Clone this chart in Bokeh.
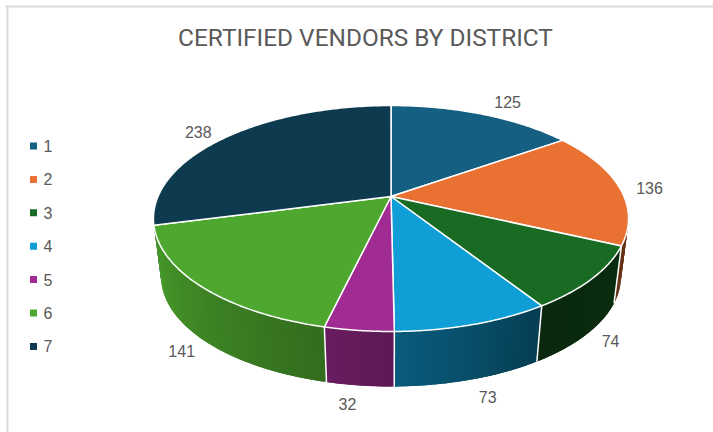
import numpy as np
from bokeh.embed import file_html
from bokeh.resources import INLINE
from bokeh.plotting import figure
from bokeh.models import Range1d
from bokeh.core.properties import value

title_text = "CERTIFIED VENDORS BY DISTRICT"
districts = ["1", "2", "3", "4", "5", "6", "7"]
vendors = [125, 136, 74, 73, 32, 141, 238]
colors = ["#156082", "#E97132", "#196B24", "#0F9ED5", "#A02B93", "#4EA72E", "#0D3A4E"]

TEXT = "#595959"
CX, APEX_Y, A, B, K = 390.5, 196.0, 233.0, 108.7, -0.1947
ECY, RY = 218.0, 113.0
SX, ECY_B, RY_B = 0.968, 276.0, 110.0
label_off = [(25, -12), (30.5, 0.9), (24.4, 6.5), (17, 17.5), (-12.5, 19), (-26, 8.5), (-28, -5)]


def top(t):
    r = np.radians(t)
    X, Y = np.sin(r), -np.cos(r)
    d = 1 + K * Y
    return CX + A * X / d, APEX_Y + B * Y / d


def bottom(t):
    x, y = top(t)
    return CX + SX * (x - CX), ECY_B + RY_B / RY * (y - ECY)


def shade(t):
    return np.interp(t, [85, 115, 147, 179, 193, 255, 285], [.50, .42, .38, .58, .65, .93, .93])


def mix(hex_c, f):
    rgb = [int(hex_c[i:i + 2], 16) for i in (1, 3, 5)]
    return "#%02x%02x%02x" % tuple(int(round(c * f)) for c in rgb)


p = figure(width=713, height=432, x_range=Range1d(0, 713), y_range=Range1d(432, 0),
           toolbar_location=None, output_backend="svg", min_border=0)
p.axis.visible = False
p.grid.visible = False
p.outline_line_color = None
p.background_fill_color = "white"

# chart frame: only its top and left edges are in the picture
p.segment([5], [6], [713], [6], line_color="#d9d9d9", line_width=2)
p.segment([7], [5], [7], [432], line_color="#d9d9d9", line_width=2)

edges = np.concatenate([[0], np.cumsum(vendors) / sum(vendors) * 360])

# side walls, drawn from the back towards the front; strips overlap so no seams show
quads = []
for i, c in enumerate(colors):
    a0, a1 = edges[i], edges[i + 1]
    lo, hi = max(a0, 85), min(a1, 285)
    if lo >= hi:
        continue
    ts = np.append(np.arange(lo, hi, 1.0), hi)
    for u, v in zip(ts[:-1], ts[1:]):
        quads.append((abs((u + v) / 2 - 180), max(u - 0.6, lo), min(v + 0.6, hi),
                      mix(c, float(shade((u + v) / 2)))))
quads.sort(key=lambda q: -q[0])
wx, wy, wc = [], [], []
for _, u, v, c in quads:
    tx0, ty0 = top(u)
    tx1, ty1 = top(v)
    bx0, by0 = bottom(u)
    bx1, by1 = bottom(v)
    wx.append([tx0, tx1, bx1, bx0])
    wy.append([ty0, ty1, by1, by0])
    wc.append(c)
p.patches(wx, wy, fill_color=wc, line_color=None)

# white seams on the wall between slices
seams = [e for e in edges[1:-1] if 110 < e < 250]
p.segment([top(e)[0] for e in seams], [top(e)[1] for e in seams],
          [bottom(e)[0] for e in seams], [bottom(e)[1] for e in seams],
          line_color="white", line_width=1.5)

# top face
sx, sy = [], []
for i in range(len(vendors)):
    ts = np.linspace(edges[i], edges[i + 1], 120)
    x, y = top(ts)
    sx.append(np.concatenate([[CX], x]).tolist())
    sy.append(np.concatenate([[APEX_Y], y]).tolist())
p.patches(sx, sy, fill_color=colors, line_color="white", line_width=1.5, line_join="round")

# data labels
font = value("Liberation Sans")
lx, ly = [], []
for i in range(len(vendors)):
    mid = (edges[i] + edges[i + 1]) / 2
    bx, by = bottom(mid) if 90 < mid < 270 else top(mid)
    lx.append(bx + label_off[i][0])
    ly.append(by + label_off[i][1])
p.text(lx, ly, text=[str(v) for v in vendors], text_font=font, text_font_size="16px",
       text_color=TEXT, text_align="center", text_baseline="middle")

# legend
leg_y = 145.5 + np.arange(len(districts)) * 33.4
p.scatter(np.full(len(districts), 33.0), leg_y, marker="square", size=7, fill_color=colors, line_color=None)
p.text(np.full(len(districts), 43.0), leg_y, text=districts, text_font=font, text_font_size="16px",
       text_color=TEXT, text_align="left", text_baseline="middle")

# title
p.text([365], [37], text=[title_text], text_font=value("Roboto"), text_font_size="24.4px",
       text_color=TEXT, text_align="center", text_baseline="middle")

open("out.html", "w").write(file_html(p, INLINE))
